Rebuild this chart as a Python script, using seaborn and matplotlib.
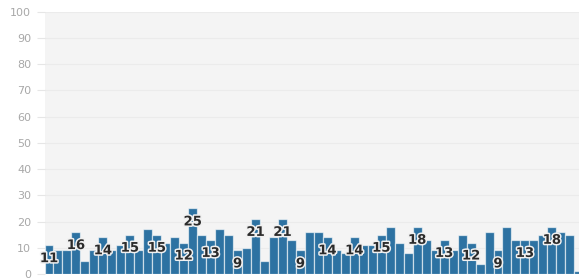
import numpy as np
import pandas as pd
import matplotlib
matplotlib.use("Agg")
import matplotlib.pyplot as plt
import matplotlib.patheffects as pe
import seaborn as sns

# valores (60 barras)
valores = [11, 9, 9, 16, 5, 9, 14, 9, 11, 15,
           9, 17, 15, 12, 14, 12, 25, 15, 13, 17,
           15, 9, 10, 21, 5, 14, 21, 13, 9, 16,
           16, 14, 9, 8, 14, 11, 11, 15, 18, 12,
           8, 18, 13, 9, 13, 9, 15, 12, 4, 16,
           9, 18, 13, 13, 13, 15, 18, 16, 15, 1]
posicoes = list(range(len(valores)))
# barras que recebem rótulo
rotulados = [0, 3, 6, 9, 12, 15, 16, 18, 21, 23, 26, 28, 31, 34, 37,
             41, 44, 47, 50, 53, 56]
yticks = [0, 10, 20, 30, 40, 50, 60, 70, 80, 90, 100]

df = pd.DataFrame({"pos": posicoes, "valor": valores})

sns.set_style("whitegrid", {"axes.facecolor": "#f4f4f4",
                            "grid.color": "#ebebeb",
                            "axes.edgecolor": "#f4f4f4"})
plt.rcParams["font.family"] = ["DejaVu Sans"]

fig = plt.figure(figsize=(5.79, 2.80), dpi=100)
W, H = 579, 280
left, right = 44.5, 579
top, bottom = 11.7, 274
ax = fig.add_axes([left / W, 1 - bottom / H, (right - left) / W, (bottom - top) / H])

sns.barplot(data=df, x="pos", y="valor", color="#2d72a2", width=1,
            edgecolor=(1, 1, 1, 0.6), linewidth=0.9, saturation=1, ax=ax)

passo = 8.98
ax.set_xlim(-0.5, -0.5 + (right - left) / passo)
ax.set_ylim(0, 100)
ax.set_yticks(yticks)
ax.set_xticks([])
ax.set_xlabel("")
ax.set_ylabel("")
ax.grid(axis="x", visible=False)
ax.grid(axis="y", linewidth=0.8)
for s in ax.spines.values():
    s.set_visible(False)
ax.tick_params(axis="y", length=6, width=0.8, color="#e6e6e6",
               labelcolor="#a8a8a8", labelsize=8, pad=3.5, left=True)

for i in rotulados:
    ax.annotate(str(valores[i]), xy=(posicoes[i], valores[i]),
                xytext=(0, -13.5), textcoords="offset pixels",
                ha="center", va="center", fontsize=9.5, fontweight="bold",
                color="#2b2b2b",
                path_effects=[pe.withStroke(linewidth=2.2, foreground="#f0f0f0")])

fig.savefig("out.png", dpi=100)
